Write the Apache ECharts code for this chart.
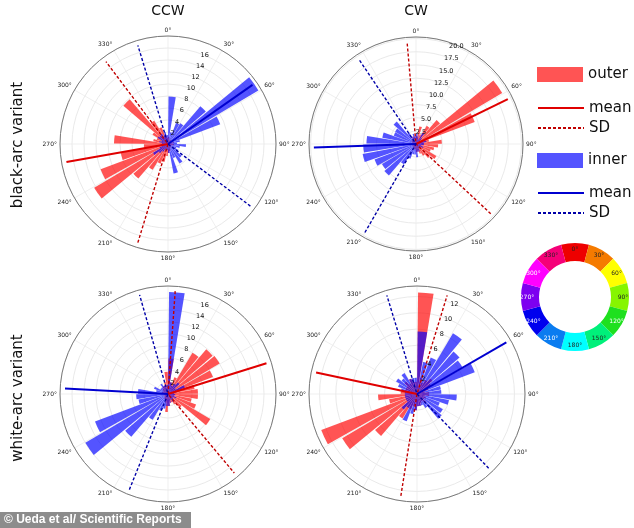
<!DOCTYPE html>
<html><head><meta charset="utf-8">
<script src="https://cdn.jsdelivr.net/npm/echarts@6/dist/echarts.min.js"></script>
<style>html,body{margin:0;padding:0;background:#fff}#c{width:634px;height:528px}</style>
</head><body><div id="c"></div>
<script>
// ---------- data ----------
const columnTitles = ['CCW', 'CW'];
const rowLabels = ['black-arc variant', 'white-arc variant'];
const binStarts = ['0','10','20','30','40','50','60','70','80','90','100','110','120','130','140','150','160','170',
  '180','190','200','210','220','230','240','250','260','270','280','290','300','310','320','330','340','350'];
const radiusMax = [18, 20.3, 18, 13.3];
const radiusStep = [2, 2.5, 2, 2];
const radiusLabelTop = [16, 20, 16, 12];

// black-arc, CCW
const ccwBlackOuter = [1.2,0.8,0.6,0.8,0.5,0.5,0.6,1,0.6,1,0.8,0.6,0.5,0.8,0.6,0.8,1.2,1.5,
  2,3,3.5,5,7.6,14.3,12,8,4,9,2.5,2,3,9.8,4.5,3,1.5,1];
const ccwBlackInner = [7.9,2,3.8,4,8.3,17.5,9.3,2,1.5,3,2,1.5,2,3,3.8,2.5,5,1.5,
  1,1.2,1,1.5,2,2.9,1.5,1,1.2,1,1.5,1.2,2,1.8,2,1.5,2,1.5];
// black-arc, CW
const cwBlackOuter = [1.5,3.4,2,4,6,19,11.9,2.5,4.9,4.2,3.5,3,4.5,3.5,2.6,2,1.5,1.5,
  1,1,0.8,0.6,0.8,0.6,0.8,0.6,0.8,1,0.6,0.8,1,1,1.2,1.5,1.5,1];
const cwBlackInner = [2,1.5,1,2.5,1.5,1,1.5,2,1.5,1.5,1,1.5,1,1.2,1,1.5,1.5,2.5,
  2,2,3,4.5,7.9,7.5,8.4,10.3,10,9.4,6.5,4.5,4.6,5.6,2.5,1.5,2,1.5];
// white-arc, CCW
const ccwWhiteOuter = [5.9,2,3,8,9.8,10,8,4.5,5,5,4,5,8.2,3,2,1.5,1.5,2,
  3,1.5,1,1,0.8,0.6,0.6,0.8,0.6,0.8,1,0.8,1,1.2,1.5,1.5,2,3.7];
const ccwWhiteInner = [17,2,1.5,2,2.5,1.5,3,1.5,1,1.2,1,1.5,1,1.2,1.5,1,1.5,2,
  2,2.5,3,5,9.4,16,13,5,5.3,5,2,2.5,1.5,1.5,2,1.5,1,1.5];
// white-arc, CW
const cwWhiteOuter = [12.5,2,1.5,2,2.5,2,1.5,1,1.5,1.5,1,1.2,1,1.5,1,1.2,1.5,1.5,
  2,1.5,2,3.5,6.8,10.7,12.6,3.5,4.8,2,1.5,1.5,1.5,2,1.5,2,1.5,1.5];
const cwWhiteInner = [7.7,4,4.8,8.7,6.9,6.5,7.6,3,3,4.9,4,3,3.7,4,2,1.5,1.5,1.5,
  2,2.5,3.6,2,2.5,1.5,1.5,1.5,1.5,1.5,2,2.5,3,2.5,3,2,2,2];

const meanOuter = [260, 64, 72.7, 282];
const sdOuter = [[197, 323], [133, 355], [4, 140], [189, 17]];
const meanInner = [55, 268, 273, 60];
const sdInner = [[127, 343], [210, 326], [202, 344], [136, 343]];

const wheelLabels = ['0°','30°','60°','90°','120°','150°','180°','210°','240°','270°','300°','330°'];
const wheelColors = ['#ee0000','#f57a00','#ffff00','#86f500','#1ee01e','#00f07a','#00ffff','#0a7cf0','#0000ee','#7d00f0','#ff00ff','#f50078'];
const wheelLabelColors = ['#222','#222','#222','#222','#fff','#222','#222','#fff','#fff','#fff','#fff','#222'];

// ---------- layout ----------
const panels = [
  {center:[168,144], r:108, outer:ccwBlackOuter, inner:ccwBlackInner},
  {center:[416,144], r:107, outer:cwBlackOuter, inner:cwBlackInner},
  {center:[168,394], r:108, outer:ccwWhiteOuter, inner:ccwWhiteInner},
  {center:[417,394], r:108, outer:cwWhiteOuter, inner:cwWhiteInner}
];
const RED = 'rgba(255,0,0,0.67)', BLUE = 'rgba(0,0,255,0.67)';
const FONT = 'DejaVu Sans';
const polar = [], angleAxis = [], radiusAxis = [], series = [];

panels.forEach((p, i) => {
  const b = i * 3, mx = radiusMax[i], st = radiusStep[i], top = radiusLabelTop[i];
  const L = mx * 0.955;
  polar.push({center:p.center, radius:p.r}, {center:p.center, radius:p.r}, {center:p.center, radius:p.r});
  angleAxis.push({polarIndex:b, type:'value', min:0, max:360, interval:30, startAngle:90, clockwise:true,
    axisLine:{lineStyle:{color:'#7a7a7a', width:1}}, axisTick:{show:false},
    axisLabel:{fontSize:6, margin:3, color:'#222', fontFamily:FONT, formatter:v => v >= 360 ? '' : v + '°'},
    splitLine:{show:true, lineStyle:{color:'#ebebeb', width:0.8}}});
  radiusAxis.push({polarIndex:b, type:'value', min:0, max:mx, interval:st,
    axisLine:{show:false}, axisTick:{show:false}, axisLabel:{show:false},
    splitLine:{show:true, lineStyle:{color:'#e3e3e3', width:0.8}}});
  angleAxis.push({polarIndex:b+1, type:'category', data:binStarts, startAngle:90, clockwise:true, show:false});
  radiusAxis.push({polarIndex:b+1, type:'value', min:0, max:mx, show:false});
  angleAxis.push({polarIndex:b+2, type:'value', min:0, max:360, startAngle:67.5, show:false});
  radiusAxis.push({polarIndex:b+2, type:'value', min:0, max:mx, interval:st, z:10,
    axisLine:{show:false}, axisTick:{show:false}, splitLine:{show:false},
    axisLabel:{fontSize:6.5, margin:0, align:'center', verticalAlign:'middle', color:'#111', fontFamily:FONT,
      formatter:v => (v > 0 && v <= top + 1e-6) ? (st % 1 ? v.toFixed(1) : String(v)) : ''}});

  series.push({name:'outer', type:'bar', coordinateSystem:'polar', polarIndex:b+1, data:p.outer,
    itemStyle:{color:RED}, barCategoryGap:'12%', barGap:'-100%', z:2, silent:true});
  series.push({name:'inner', type:'bar', coordinateSystem:'polar', polarIndex:b+1, data:p.inner,
    itemStyle:{color:BLUE}, barCategoryGap:'12%', barGap:'-100%', z:2, silent:true});
  series.push({name:'mean_o', type:'line', coordinateSystem:'polar', polarIndex:b, symbol:'none', z:4, silent:true,
    lineStyle:{color:'#e00000', width:2}, data:[[0, meanOuter[i]], [L, meanOuter[i]]]});
  series.push({name:'SD_o', type:'line', coordinateSystem:'polar', polarIndex:b, symbol:'none', z:4, silent:true,
    lineStyle:{color:'#c00000', width:1.4, type:[3,2]},
    data:[[L, sdOuter[i][0]], [0, sdOuter[i][0]], [L, sdOuter[i][1]]]});
  series.push({name:'mean_i', type:'line', coordinateSystem:'polar', polarIndex:b, symbol:'none', z:4, silent:true,
    lineStyle:{color:'#0000d0', width:2}, data:[[0, meanInner[i]], [L, meanInner[i]]]});
  series.push({name:'SD_i', type:'line', coordinateSystem:'polar', polarIndex:b, symbol:'none', z:4, silent:true,
    lineStyle:{color:'#0000a8', width:1.4, type:[3,2]},
    data:[[L, sdInner[i][0]], [0, sdInner[i][0]], [L, sdInner[i][1]]]});
});

series.push({type:'pie', center:[575,297], radius:[36,54], startAngle:105, clockwise:true, silent:true,
  label:{position:'inside', fontSize:6, fontFamily:FONT},
  labelLine:{show:false}, emphasis:{disabled:true},
  data: wheelLabels.map((l, k) => ({value:1, name:l, itemStyle:{color:wheelColors[k]},
    label:{color:wheelLabelColors[k]}}))});

const legendBase = {left:537, orient:'vertical', itemWidth:46, itemHeight:15, padding:0, selectedMode:false,
  textStyle:{fontSize:15, fontFamily:FONT, color:'#111', lineHeight:15},
  formatter:n => n.split('_')[0]};

const option = {
  animation:false,
  backgroundColor:'#fff',
  title: columnTitles.map((t, k) => ({text:t, left:[168,416][k], top:4, textAlign:'center', padding:0,
    textStyle:{fontSize:14, fontWeight:'normal', fontFamily:FONT, color:'#111'}})),
  legend: [
    Object.assign({}, legendBase, {top:67, data:[{name:'outer', icon:'rect'}]}),
    Object.assign({}, legendBase, {top:100.5, itemGap:5, itemStyle:{opacity:0}, data:['mean_o','SD_o']}),
    Object.assign({}, legendBase, {top:153, data:[{name:'inner', icon:'rect'}]}),
    Object.assign({}, legendBase, {top:185.5, itemGap:5, itemStyle:{opacity:0}, data:['mean_i','SD_i']})
  ],
  polar, angleAxis, radiusAxis, series,
  graphic: [
    {type:'text', x:18, y:145, rotation:Math.PI/2, style:{text:rowLabels[0], fontSize:15, fontFamily:FONT, fill:'#111', align:'center', verticalAlign:'middle'}},
    {type:'text', x:18, y:398, rotation:Math.PI/2, style:{text:rowLabels[1], fontSize:15, fontFamily:FONT, fill:'#111', align:'center', verticalAlign:'middle'}},
    {type:'rect', shape:{x:0, y:512, width:191, height:16}, style:{fill:'#8c8c8c'}},
    {type:'text', x:4, y:520, style:{text:'© Ueda et al/ Scientific Reports', fontSize:12, fontWeight:'bold', fontFamily:'Liberation Sans', fill:'#fff', align:'left', verticalAlign:'middle'}}
  ]
};
echarts.init(document.getElementById('c')).setOption(option);
</script></body></html>
